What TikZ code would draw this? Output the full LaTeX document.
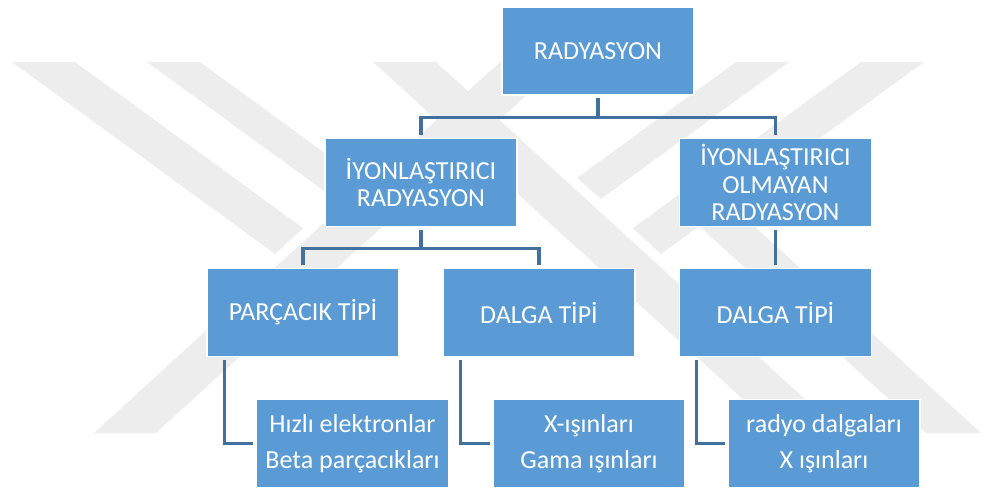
\documentclass[tikz,border=0pt]{standalone}
\usepackage{fontspec}
\setmainfont{Carlito}
\usetikzlibrary{positioning,calc}
\definecolor{boxblue}{HTML}{5B9BD5}
\definecolor{linkblue}{HTML}{41719C}
\definecolor{wmgray}{HTML}{EDEDED}
\tikzset{
  box/.style={
    rectangle, fill=boxblue, draw=white, line width=0.8pt,
    minimum width=4.8cm, minimum height=2.2cm, inner sep=0pt,
    align=center, text=white,
    font=\fontsize{18.5}{19.4}\selectfont
  },
  leaf/.style={box, font=\fontsize{18.5}{25.6}\selectfont},
  link/.style={draw=linkblue, line width=2.2pt},
  gap/.style={shorten <=2pt, shorten >=2pt}
}
\begin{document}
\begin{tikzpicture}[x=0.025cm,y=-0.025cm]
  \useasboundingbox (0,0) rectangle (981,491);

  % watermark bands
  \foreach \a/\b/\c/\d in {
      {12,62}/{75,62}/{303,228}/{275,254},
      {147,62}/{200,62}/{359,178}/{335,199},
      {94,433}/{156,433}/{563,62}/{500,62},
      {924,62}/{861,62}/{633,228}/{661,254},
      {789,62}/{736,62}/{577,178}/{601,199},
      {842,433}/{780,433}/{373,62}/{436,62},
      {926,433}/{981,433}/{742,215}/{687,215}} {
    \fill[wmgray] (\a) -- (\b) -- (\c) -- (\d) -- cycle;
  }

  \node (rad) [box] at (598,51) {RADYASYON};
  \node (iyon) [box] at (421,182.5) {İYONLAŞTIRICI\\RADYASYON};
  \node (olm) [box] at (775.5,182.5) {İYONLAŞTIRICI\\OLMAYAN\\RADYASYON};
  \node (parc) [box] at (303,312.5) {PARÇACIK TİPİ};
  \node (dalga1) [box] at (539,312.5) {DALGA TİPİ};
  \node (dalga2) [box] at (775.5,312.5) {DALGA TİPİ};
  \node (hizli) [leaf] at (352.5,443.5) {Hızlı elektronlar\\Beta parçacıkları};
  \node (xis) [leaf] at (589,443.5) {X-ışınları\\Gama ışınları};
  \node (radyo) [leaf] at (824,443.5) {radyo dalgaları\\X ışınları};

  \path (rad.south) ++(0,22) coordinate (j1);
  \path (iyon.south) ++(0,21) coordinate (j2);

  \draw[link, shorten <=2pt] (rad.south) -- (j1);
  \draw[link, gap] (iyon.north) |- (j1) -| (olm.north);
  \draw[link, shorten <=2pt] (iyon.south) -- (j2);
  \draw[link, gap] (parc.north) |- (j2) -| (dalga1.north);
  \draw[link, gap] (olm.south) -- (dalga2.north);

  \foreach \p/\c in {parc/hizli, dalga1/xis, dalga2/radyo} {
    \draw[link, gap] ([xshift=0.45cm]\p.south west) |- (\c.west);
  }
\end{tikzpicture}
\end{document}
